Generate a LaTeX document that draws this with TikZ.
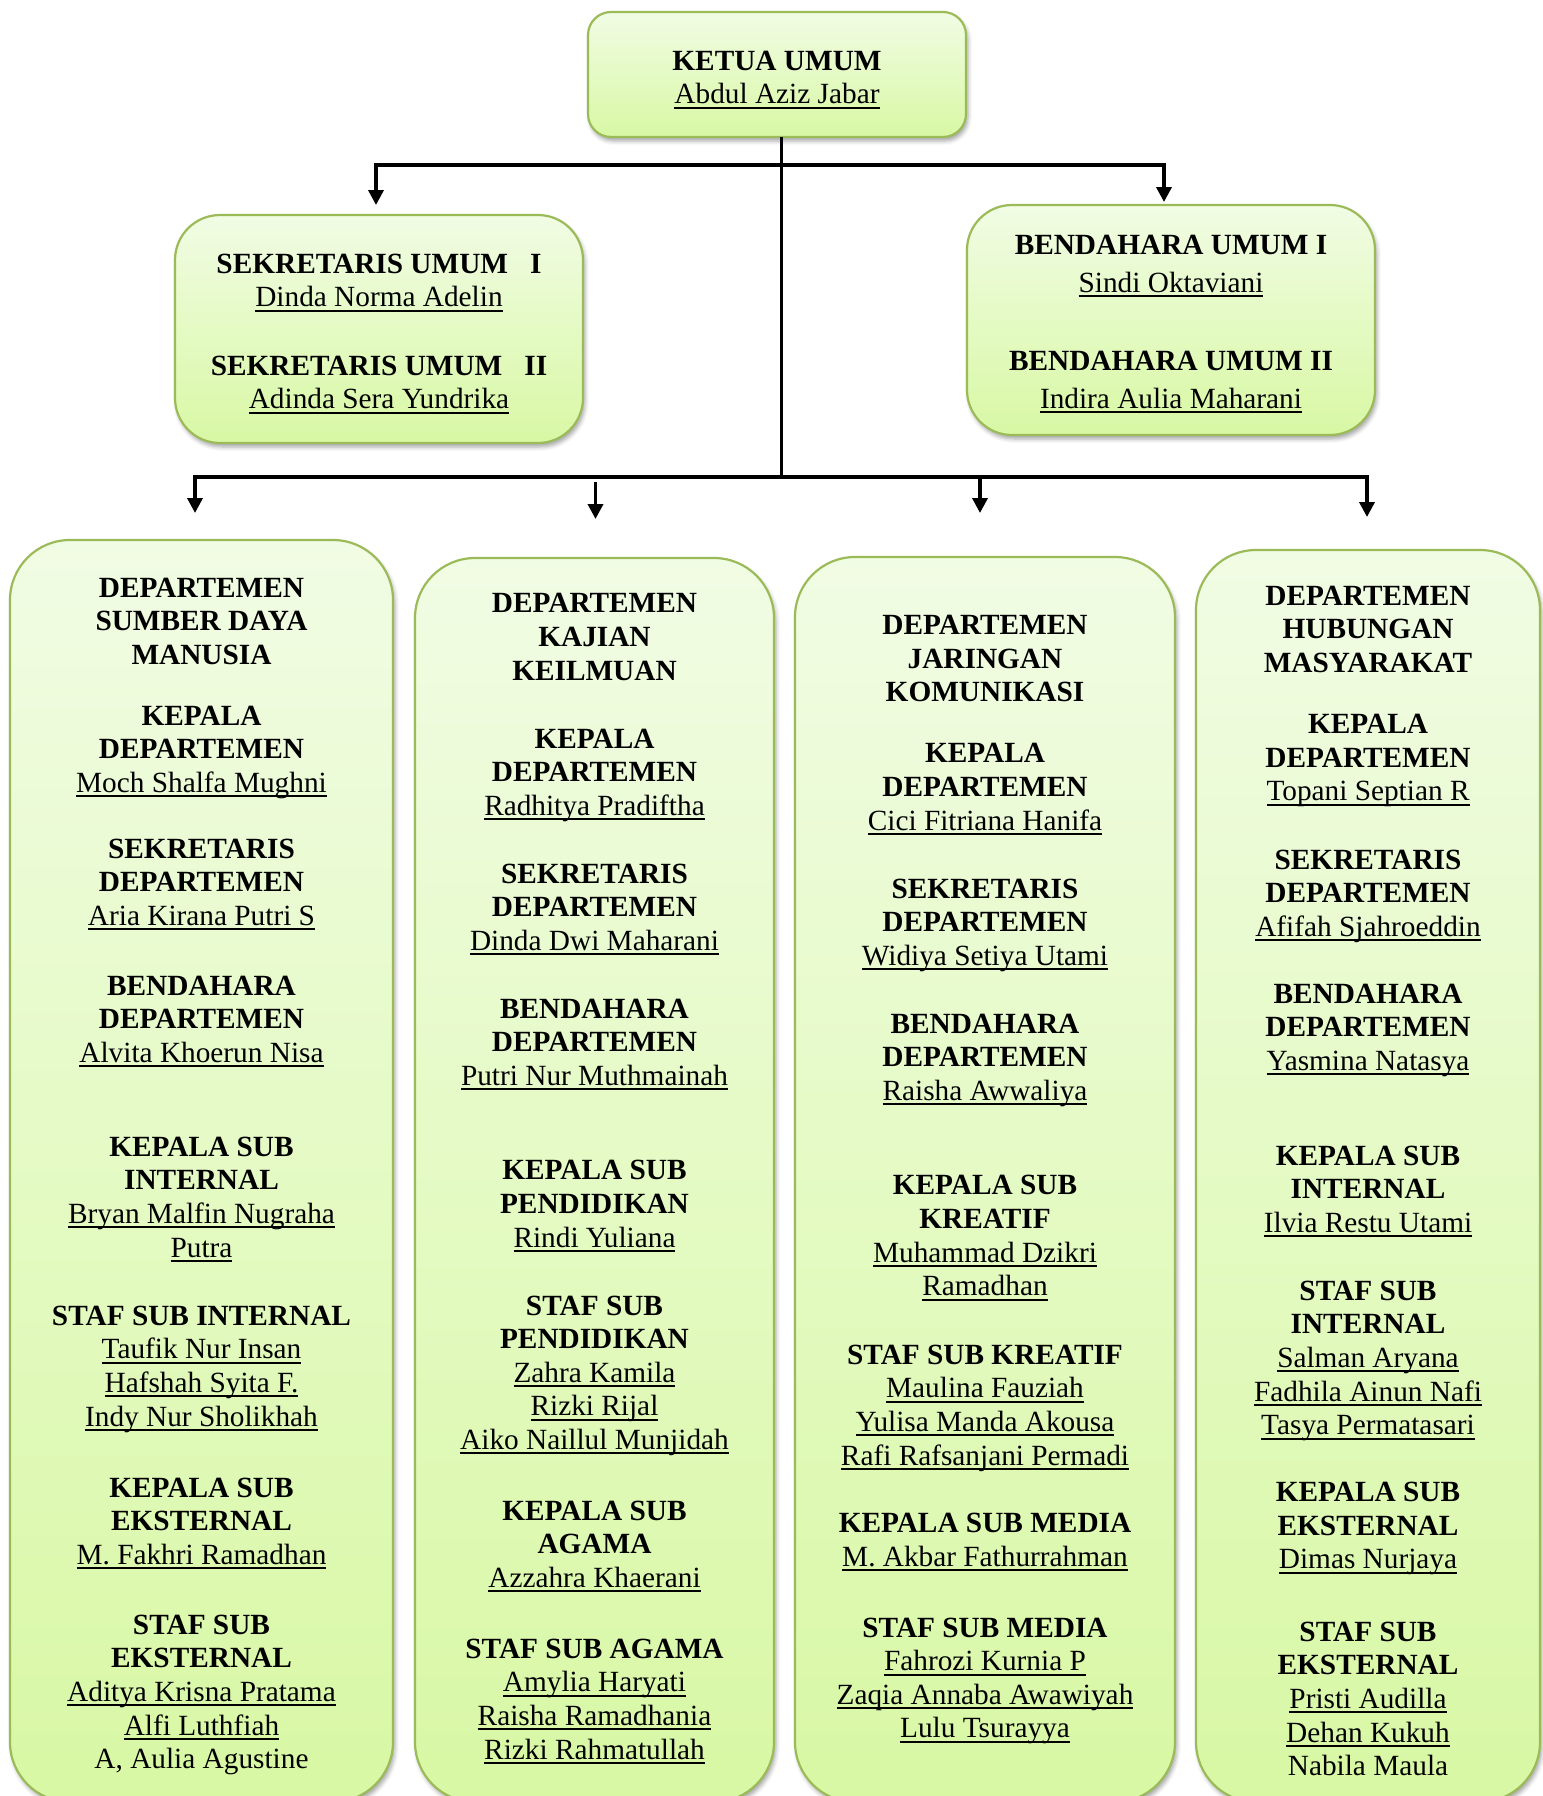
\documentclass[tikz,border=0pt]{standalone}
\usepackage{fontspec}
\setmainfont{Liberation Serif}
\usetikzlibrary{arrows.meta,shadows.blur}
\definecolor{boxborder}{RGB}{155,187,89}
\definecolor{boxtop}{RGB}{241,252,228}
\definecolor{boxbot}{RGB}{216,248,164}
\newcommand\ul[1]{\setbox0\hbox{#1}\rlap{\rule[-5pt]{\wd0}{2pt}}\box0}
\newcommand\grp[4]{\node[txt] (#1) at (#2,{#3-23.52}) {\strut#4};}
\begin{document}
\begin{tikzpicture}[x=1pt,y=-1pt,
 txt/.style={font=\fontsize{29.3}{33.6}\selectfont, align=center, inner sep=0pt, anchor=north},
 box/.style={draw=boxborder, line width=2.2pt, rounded corners=#1, top color=boxtop, bottom color=boxbot,
   inner sep=0pt, outer sep=0pt,
   blur shadow={shadow xshift=2pt,shadow yshift=-4pt,shadow blur radius=4pt,shadow opacity=35}},
 wire/.style={line width=3.5pt, black, line join=miter},
 arr/.style={wire, -{Triangle[length=15pt,width=15pt]}},
 arrboth/.style={wire, {Triangle[length=15pt,width=15pt]}-{Triangle[length=15pt,width=15pt]}},
]
\useasboundingbox (0,0) rectangle (1542,1796);

% boxes
\node[box=23pt, minimum width=378pt, minimum height=125pt] (top) at (777,74.5) {};
\node[box=45pt, minimum width=408pt, minimum height=228pt] (sek) at (379,329) {};
\node[box=45pt, minimum width=408pt, minimum height=230pt] (ben) at (1171,320) {};
\node[box=60pt, minimum width=383pt, minimum height=1262pt] (d1) at (201.5,1171) {};
\node[box=60pt, minimum width=359pt, minimum height=1244pt] (d2) at (594.5,1180) {};
\node[box=60pt, minimum width=380pt, minimum height=1245pt] (d3) at (985,1179.5) {};
\node[box=60pt, minimum width=344pt, minimum height=1252pt] (d4) at (1368,1176) {};

% connectors
\coordinate (jn) at (781.5,478.5);
\coordinate (aL) at (376,205);
\coordinate (cL) at (376,165);
\coordinate (cR) at (1164,165);
\coordinate (aR) at (1164,202);
\coordinate (b1) at (195,513);
\coordinate (lL) at (195,477);
\coordinate (lR) at (1367,477);
\coordinate (b4) at (1367,517);
\coordinate (s2) at (595.5,482);
\coordinate (b2) at (595.5,519);
\coordinate (s3) at (980,475);
\coordinate (b3) at (980,513);
\draw[wire] (top.south -| jn) -- (jn);
\draw[arrboth] (aL) -- (cL) -- (cR) -- (aR);
\draw[arrboth] (b1) -- (lL) -- (lR) -- (b4);
\draw[arr] (s2) -- (b2);
\draw[arr] (s3) -- (b3);

% top texts
\grp{t1}{777}{70}{\textbf{KETUA UMUM}\\\ul{Abdul Aziz Jabar}}
\grp{s1}{379}{273}{\textbf{SEKRETARIS UMUM\hspace{22pt}I}\\\ul{Dinda Norma Adelin}}
\grp{s2t}{379}{375}{\textbf{SEKRETARIS UMUM\hspace{22pt}II}\\\ul{Adinda Sera Yundrika}}
\grp{bn1}{1171}{254}{\textbf{BENDAHARA UMUM I}}
\grp{bn2}{1171}{292}{\ul{Sindi Oktaviani}}
\grp{bn3}{1171}{370}{\textbf{BENDAHARA UMUM II}}
\grp{bn4}{1171}{408}{\ul{Indira Aulia Maharani}}

% department 1
\grp{d1a}{201.5}{597}{\textbf{DEPARTEMEN}\\\textbf{SUMBER DAYA}\\\textbf{MANUSIA}}
\grp{d1b}{201.5}{725}{\textbf{KEPALA}\\\textbf{DEPARTEMEN}\\\ul{Moch Shalfa Mughni}}
\grp{d1c}{201.5}{858}{\textbf{SEKRETARIS}\\\textbf{DEPARTEMEN}\\\ul{Aria Kirana Putri S}}
\grp{d1d}{201.5}{995}{\textbf{BENDAHARA}\\\textbf{DEPARTEMEN}\\\ul{Alvita Khoerun Nisa}}
\grp{d1e}{201.5}{1156}{\textbf{KEPALA SUB}\\\textbf{INTERNAL}\\\ul{Bryan Malfin Nugraha}\\\ul{Putra}}
\grp{d1f}{201.5}{1325}{\textbf{STAF SUB INTERNAL}\\\ul{Taufik Nur Insan}\\\ul{Hafshah Syita F.}\\\ul{Indy Nur Sholikhah}}
\grp{d1g}{201.5}{1497}{\textbf{KEPALA SUB}\\\textbf{EKSTERNAL}\\\ul{M. Fakhri Ramadhan}}
\grp{d1h}{201.5}{1634}{\textbf{STAF SUB}\\\textbf{EKSTERNAL}\\\ul{Aditya Krisna Pratama}\\\ul{Alfi Luthfiah}\\A, Aulia Agustine}

% department 2
\grp{d2a}{594.5}{612.6}{\textbf{DEPARTEMEN}\\\textbf{KAJIAN}\\\textbf{KEILMUAN}}
\grp{d2b}{594.5}{747.8}{\textbf{KEPALA}\\\textbf{DEPARTEMEN}\\\ul{Radhitya Pradiftha}}
\grp{d2c}{594.5}{883}{\textbf{SEKRETARIS}\\\textbf{DEPARTEMEN}\\\ul{Dinda Dwi Maharani}}
\grp{d2d}{594.5}{1018}{\textbf{BENDAHARA}\\\textbf{DEPARTEMEN}\\\ul{Putri Nur Muthmainah}}
\grp{d2e}{594.5}{1179.7}{\textbf{KEPALA SUB}\\\textbf{PENDIDIKAN}\\\ul{Rindi Yuliana}}
\grp{d2f}{594.5}{1314.8}{\textbf{STAF SUB}\\\textbf{PENDIDIKAN}\\\ul{Zahra Kamila}\\\ul{Rizki Rijal}\\\ul{Aiko Naillul Munjidah}}
\grp{d2g}{594.5}{1520}{\textbf{KEPALA SUB}\\\textbf{AGAMA}\\\ul{Azzahra Khaerani}}
\grp{d2h}{594.5}{1658}{\textbf{STAF SUB AGAMA}\\\ul{Amylia Haryati}\\\ul{Raisha Ramadhania}\\\ul{Rizki Rahmatullah}}

% department 3
\grp{d3a}{985}{634.4}{\textbf{DEPARTEMEN}\\\textbf{JARINGAN}\\\textbf{KOMUNIKASI}}
\grp{d3b}{985}{762.7}{\textbf{KEPALA}\\\textbf{DEPARTEMEN}\\\ul{Cici Fitriana Hanifa}}
\grp{d3c}{985}{897.8}{\textbf{SEKRETARIS}\\\textbf{DEPARTEMEN}\\\ul{Widiya Setiya Utami}}
\grp{d3d}{985}{1033}{\textbf{BENDAHARA}\\\textbf{DEPARTEMEN}\\\ul{Raisha Awwaliya}}
\grp{d3e}{985}{1194.6}{\textbf{KEPALA SUB}\\\textbf{KREATIF}\\\ul{Muhammad Dzikri}\\\ul{Ramadhan}}
\grp{d3f}{985}{1364}{\textbf{STAF SUB KREATIF}\\\ul{Maulina Fauziah}\\\ul{Yulisa Manda Akousa}\\\ul{Rafi Rafsanjani Permadi}}
\grp{d3g}{985}{1532.5}{\textbf{KEPALA SUB MEDIA}\\\ul{M. Akbar Fathurrahman}}
\grp{d3h}{985}{1636.8}{\textbf{STAF SUB MEDIA}\\\ul{Fahrozi Kurnia P}\\\ul{Zaqia Annaba Awawiyah}\\\ul{Lulu Tsurayya}}

% department 4
\grp{d4a}{1368}{605}{\textbf{DEPARTEMEN}\\\textbf{HUBUNGAN}\\\textbf{MASYARAKAT}}
\grp{d4b}{1368}{733.5}{\textbf{KEPALA}\\\textbf{DEPARTEMEN}\\\ul{Topani Septian R}}
\grp{d4c}{1368}{869}{\textbf{SEKRETARIS}\\\textbf{DEPARTEMEN}\\\ul{Afifah Sjahroeddin}}
\grp{d4d}{1368}{1003}{\textbf{BENDAHARA}\\\textbf{DEPARTEMEN}\\\ul{Yasmina Natasya}}
\grp{d4e}{1368}{1164.8}{\textbf{KEPALA SUB}\\\textbf{INTERNAL}\\\ul{Ilvia Restu Utami}}
\grp{d4f}{1368}{1300}{\textbf{STAF SUB}\\\textbf{INTERNAL}\\\ul{Salman Aryana}\\\ul{Fadhila Ainun Nafi}\\\ul{Tasya Permatasari}}
\grp{d4g}{1368}{1501.5}{\textbf{KEPALA SUB}\\\textbf{EKSTERNAL}\\\ul{Dimas Nurjaya}}
\grp{d4h}{1368}{1641}{\textbf{STAF SUB}\\\textbf{EKSTERNAL}\\\ul{Pristi Audilla}\\\ul{Dehan Kukuh}\\Nabila Maula}
\end{tikzpicture}
\end{document}
